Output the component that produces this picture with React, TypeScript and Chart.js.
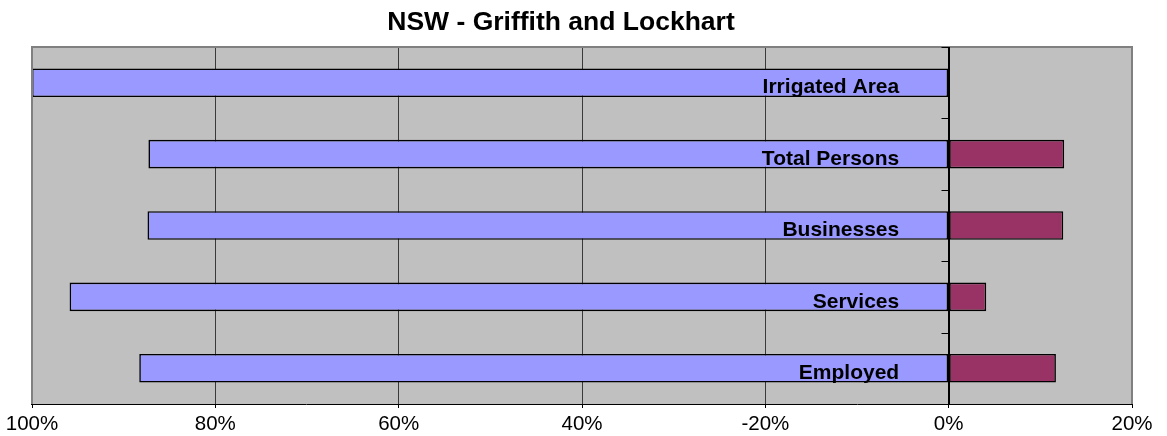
import React, { useEffect, useRef } from "react";
import { Chart, registerables } from "chart.js";

Chart.register(...registerables);

const TITLE = "NSW - Griffith and Lockhart";
const categories = ["Irrigated Area", "Total Persons", "Businesses", "Services", "Employed"];
const declineValues = [-100, -87.3, -87.4, -95.9, -88.3];
const growthValues: (number | null)[] = [null, 12.6, 12.5, 4.1, 11.7];
const tickValues = [-100, -80, -60, -40, -20, 0, 20];
const tickLabels = ["100%", "80%", "60%", "40%", "-20%", "0%", "20%"];
const LABEL_ANCHOR = -5.4;

const FONT = "'Liberation Sans', Arial, sans-serif";

const decor = {
  id: "decor",
  beforeDraw(chart: any) {
    const { ctx, chartArea } = chart;
    ctx.save();
    ctx.fillStyle = "#C0C0C0";
    ctx.fillRect(chartArea.left, chartArea.top, chartArea.right - chartArea.left, chartArea.bottom - chartArea.top);
    ctx.restore();
  },
  afterDraw(chart: any) {
    const { ctx, chartArea, scales } = chart;
    ctx.save();
    // plot border (top, left, right)
    ctx.strokeStyle = "#808080";
    ctx.lineWidth = 2;
    ctx.beginPath();
    ctx.moveTo(chartArea.left, chartArea.bottom);
    ctx.lineTo(chartArea.left, chartArea.top);
    ctx.lineTo(chartArea.right, chartArea.top);
    ctx.lineTo(chartArea.right, chartArea.bottom);
    ctx.stroke();
    // zero axis and its ticks
    const x0 = Math.round(scales.x.getPixelForValue(0)) + 0.5;
    ctx.strokeStyle = "#000";
    ctx.lineWidth = 1;
    ctx.beginPath();
    ctx.moveTo(x0, chartArea.top);
    ctx.lineTo(x0, chartArea.bottom);
    const y = scales.y;
    for (let i = 0; i <= categories.length; i++) {
      const yy = Math.round(y.getPixelForValue(i - 0.5)) + 0.5;
      ctx.moveTo(x0 - 8, yy);
      ctx.lineTo(x0, yy);
    }
    ctx.stroke();
    // bottom axis line
    ctx.beginPath();
    ctx.moveTo(chartArea.left - 1, Math.round(chartArea.bottom) + 0.5);
    ctx.lineTo(chartArea.right + 1, Math.round(chartArea.bottom) + 0.5);
    ctx.stroke();
    // category labels inside bars
    ctx.fillStyle = "#000";
    ctx.font = `bold 21px ${FONT}`;
    ctx.textAlign = "right";
    ctx.textBaseline = "alphabetic";
    const lx = scales.x.getPixelForValue(LABEL_ANCHOR);
    categories.forEach((c, i) => {
      ctx.fillText(c, lx, y.getPixelForValue(i) + 10.7);
    });
    // title
    ctx.font = `bold 26.5px ${FONT}`;
    ctx.textAlign = "center";
    ctx.fillText(TITLE, 561, 30);
    ctx.restore();
  },
};

export default function App() {
  const ref = useRef<HTMLCanvasElement>(null);
  useEffect(() => {
    document.body.style.margin = "0";
    const chart = new Chart(ref.current!, {
      type: "bar",
      data: {
        labels: categories,
        datasets: [
          {
            label: "Decline",
            data: declineValues,
            backgroundColor: "#9999FF",
            borderColor: "#000",
            borderWidth: 1.6,
            borderSkipped: false,
          },
          {
            label: "Growth",
            data: growthValues,
            backgroundColor: "#993366",
            borderColor: "#000",
            borderWidth: 1.6,
            borderSkipped: false,
          },
        ],
      },
      options: {
        indexAxis: "y",
        responsive: false,
        animation: false,
        devicePixelRatio: 1,
        layout: { padding: { left: 32, right: 35, top: 47, bottom: 0 } },
        datasets: { bar: { barPercentage: 0.4, categoryPercentage: 1 } },
        plugins: { legend: { display: false }, title: { display: false }, tooltip: { enabled: false } },
        scales: {
          x: {
            type: "linear",
            stacked: true,
            min: -100,
            max: 20,
            afterBuildTicks: (s: any) => {
              s.ticks = tickValues.map((v) => ({ value: v }));
            },
            afterFit: (s: any) => {
              s.height = 32;
            },
            ticks: {
              color: "#000",
              font: { family: FONT, size: 20.5 },
              padding: 4,
              maxRotation: 0,
              callback: (v: any) => {
                const i = tickValues.indexOf(Number(v));
                return i >= 0 ? tickLabels[i] : "";
              },
            },
            grid: {
              color: (c: any) => {
                const v = c.tick ? c.tick.value : null;
                if (v === -100 || v === 20) return "rgba(0,0,0,0)";
                if (v === 0) return "#000";
                return "#3a3a3a";
              },
              tickColor: "#000",
              tickLength: 4,
              lineWidth: 1,
            },
            border: { display: false },
          },
          y: {
            type: "category",
            stacked: true,
            display: false,
          },
        },
      },
      plugins: [decor],
    });
    return () => chart.destroy();
  }, []);
  return (
    <div style={{ position: "absolute", left: 0, top: 0, width: 1167, height: 436 }}>
      <canvas ref={ref} width={1167} height={436} />
    </div>
  );
}
